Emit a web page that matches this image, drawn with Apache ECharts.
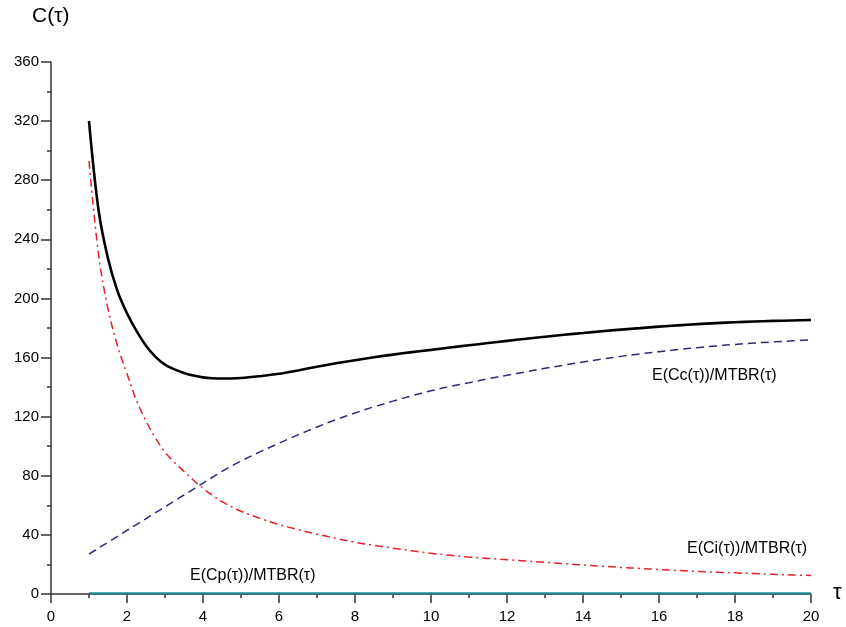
<!DOCTYPE html>
<html>
<head>
<meta charset="utf-8">
<script src="https://cdn.jsdelivr.net/npm/echarts@6/dist/echarts.min.js"></script>
<style>
html,body{margin:0;padding:0;background:#fff;}
#chart{width:846px;height:627px;}
</style>
</head>
<body>
<div id="chart"></div>
<script>
const tau = [1, 1.25, 1.5, 1.75, 2, 2.25, 2.5, 2.75, 3, 3.25, 3.5, 3.75, 4, 4.25, 4.5, 5, 5.5, 6, 6.5, 7, 7.5, 8, 8.5, 9, 9.5, 10, 10.5, 11, 11.5, 12, 12.5, 13, 13.5, 14, 14.5, 15, 15.5, 16, 16.5, 17, 17.5, 18, 18.5, 19, 19.5, 20];
const totalCost = [320, 260, 227, 205, 190, 178, 168, 160.5, 155.2, 152, 149.6, 147.8, 146.6, 146, 145.8, 146.2, 147.4, 149, 151.3, 153.8, 156.1, 158.2, 160.2, 162, 163.7, 165.2, 166.8, 168.3, 169.8, 171.3, 172.7, 174.1, 175.4, 176.6, 177.8, 178.9, 179.9, 180.9, 181.8, 182.6, 183.3, 183.9, 184.4, 184.8, 185.1, 185.4];
const correctiveCost = [27, 31, 35, 39, 43, 47, 51, 55, 59, 63, 67, 71, 75, 79, 83, 90, 96.2, 102, 107.7, 113, 118, 122.5, 126.7, 130.5, 134.2, 137.5, 140.4, 143, 145.6, 148, 150.4, 152.7, 154.9, 157, 159, 160.8, 162.5, 164, 165.4, 166.7, 167.9, 168.9, 169.8, 170.6, 171.3, 172];
const inspectionCost = [293, 230, 193, 168, 149, 131, 117, 105.5, 96, 89, 83, 77, 71.5, 66.8, 62.5, 56, 51.2, 47, 43.6, 40.5, 37.6, 35, 32.9, 31, 29.2, 27.5, 26.2, 25, 24.1, 23.2, 22.3, 21.4, 20.5, 19.6, 18.8, 18, 17.3, 16.6, 15.9, 15.3, 14.8, 14.3, 13.8, 13.3, 12.9, 12.5];
const preventiveCost = tau.map(() => 0.4);
const xTicks = [0, 2, 4, 6, 8, 10, 12, 14, 16, 18, 20];
const yTicks = [0, 40, 80, 120, 160, 200, 240, 280, 320, 360];
const labels = {
  yName: 'C(τ)',
  xName: 'τ',
  cc: 'E(Cc(τ))/MTBR(τ)',
  ci: 'E(Ci(τ))/MTBR(τ)',
  cp: 'E(Cp(τ))/MTBR(τ)'
};

const pair = (ys) => tau.map((t, i) => [t, ys[i]]);
const font = 'Liberation Sans, Arial, sans-serif';

const chart = echarts.init(document.getElementById('chart'));
chart.setOption({
  animation: false,
  backgroundColor: '#fff',
  grid: { left: 51, right: 35, top: 62, bottom: 33, containLabel: false },
  xAxis: {
    type: 'value', min: xTicks[0], max: xTicks[xTicks.length - 1], interval: 2,
    axisLine: { show: true, onZero: false, lineStyle: { color: '#333', width: 1.5 } },
    axisTick: { show: true, inside: false, length: 9, lineStyle: { color: '#333', width: 1.5 } },
    minorTick: { show: true, splitNumber: 2, length: 4, lineStyle: { color: '#333', width: 1.5 } },
    splitLine: { show: false },
    axisLabel: { color: '#000', fontSize: 15, fontFamily: font, margin: 15 }
  },
  yAxis: {
    type: 'value', min: yTicks[0], max: yTicks[yTicks.length - 1], interval: 40,
    axisLine: { show: true, onZero: false, lineStyle: { color: '#333', width: 1.5 } },
    axisTick: { show: true, inside: false, length: 10, lineStyle: { color: '#333', width: 1.5 } },
    minorTick: { show: true, splitNumber: 2, length: 4, lineStyle: { color: '#333', width: 1.5 } },
    splitLine: { show: false },
    axisLabel: { color: '#000', fontSize: 15, fontFamily: font, margin: 12 }
  },
  series: [
    {
      name: 'total', type: 'line', data: pair(totalCost), smooth: 0.35, showSymbol: false,
      lineStyle: { color: '#000', width: 2.6 }, z: 5
    },
    {
      name: 'corrective', type: 'line', data: pair(correctiveCost), smooth: 0.35, showSymbol: false,
      lineStyle: { color: '#2b2b7a', width: 1.5, type: [8, 5] }, z: 4
    },
    {
      name: 'inspection', type: 'line', data: pair(inspectionCost), smooth: 0.35, showSymbol: false,
      lineStyle: { color: '#e8202a', width: 1.5, type: [8, 4, 2, 4] }, z: 4
    },
    {
      name: 'preventive', type: 'line', data: pair(preventiveCost), smooth: false, showSymbol: false,
      lineStyle: { color: '#1f8a8c', width: 2.2 }, z: 6
    }
  ],
  graphic: [
    { type: 'text', left: 32, top: 6, style: { text: labels.yName, fontSize: 21, fontFamily: font, fill: '#000' } },
    { type: 'text', left: 833, top: 582, style: { text: labels.xName, fontSize: 22, fontFamily: font, fill: '#000' } },
    { type: 'text', left: 652, top: 368, style: { text: labels.cc, fontSize: 16, fontFamily: font, fill: '#000' } },
    { type: 'text', left: 687, top: 541, style: { text: labels.ci, fontSize: 16, fontFamily: font, fill: '#000' } },
    { type: 'text', left: 190, top: 568, style: { text: labels.cp, fontSize: 16, fontFamily: font, fill: '#000' } }
  ]
});
</script>
</body>
</html>
